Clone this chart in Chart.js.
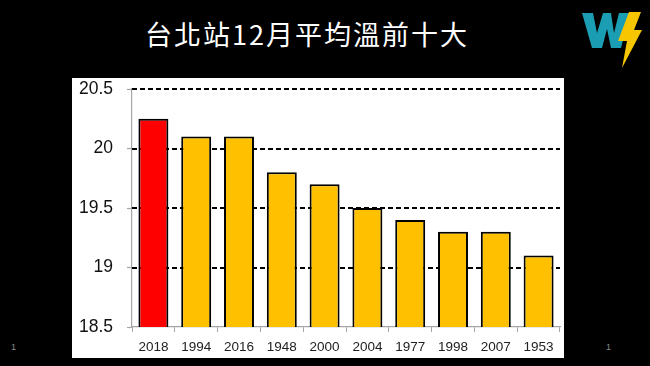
<!DOCTYPE html>
<html><head><meta charset="utf-8">
<script src="https://cdn.jsdelivr.net/npm/chart.js@4"></script>
<style>
html,body{margin:0;padding:0;background:#000;width:650px;height:366px;overflow:hidden;}
#title{position:absolute;left:0;width:614px;top:14px;text-align:center;color:#fff;font-family:"Noto Sans CJK TC","Noto Sans CJK SC",sans-serif;font-size:27px;letter-spacing:2px;line-height:40px;}
#panel{position:absolute;left:72px;top:78px;width:492px;height:280px;background:#fff;}
#c{display:block;}
.num{position:absolute;top:342px;color:#888;font-family:"Liberation Sans",Arial,sans-serif;font-size:9px;}
#logo{position:absolute;left:0;top:0;}
</style></head>
<body>
<div id="title">台北站12月平均溫前十大</div>
<svg id="logo" width="650" height="80">
<polygon fill="#1b9db3" points="582,13 593,13 597,33 603,13 611,13 614,33 619,13 630,13 621,48 611,48 607,29 602,48 592,48"/>
<polygon fill="#f7c600" points="629,12 641,12 634,30 642,30 622,68 627,41 618,41"/>
</svg>
<div id="panel"><canvas id="c" width="492" height="280"></canvas></div>
<div class="num" style="left:11px">1</div>
<div class="num" style="left:606px">1</div>
<script>
const categories = ["2018","1994","2016","1948","2000","2004","1977","1998","2007","1953"];
const values = [20.25,20.1,20.1,19.8,19.7,19.5,19.4,19.3,19.3,19.1];
const yTicks = [18.5,19,19.5,20,20.5];
const barColors = categories.map((c,i)=> i===0 ? "#ff0000" : "#ffc000");

const dashedGrid = {
  id: "dashedGrid",
  beforeDatasetsDraw(chart) {
    const { ctx, chartArea: a, scales: { y } } = chart;
    ctx.save();
    ctx.strokeStyle = "#000";
    ctx.lineWidth = 2;
    ctx.setLineDash([5, 3]);
    yTicks.forEach(v => {
      if (v === y.min) return;
      const py = Math.round(y.getPixelForValue(v));
      ctx.beginPath();
      ctx.moveTo(a.left, py);
      ctx.lineTo(a.right, py);
      ctx.stroke();
    });
    ctx.restore();
  }
};

new Chart(document.getElementById("c"), {
  type: "bar",
  data: { labels: categories, datasets: [{ data: values, backgroundColor: barColors, borderColor: "#000", borderWidth: 2, borderSkipped: false, barPercentage: 0.7, categoryPercentage: 1 }] },
  plugins: [dashedGrid],
  options: {
    responsive: false, animation: false, devicePixelRatio: 1,
    layout: { padding: { left: 0, right: 4, top: 11, bottom: 0 } },
    plugins: { legend: { display: false }, tooltip: { enabled: false } },
    scales: {
      x: {
        afterFit: s => { s.height = 31; s.paddingLeft = 0; s.paddingRight = 0; },
        border: { color: "#a6a6a6", width: 1.2 },
        grid: { drawOnChartArea: false, drawTicks: true, tickLength: 5, tickColor: "#a6a6a6", offset: true },
        ticks: { color: "#222", font: { family: "Liberation Sans", size: 13.5 }, padding: 7, maxRotation: 0 }
      },
      y: {
        min: 18.5, max: 20.5,
        afterFit: s => { s.width = 60; s.paddingTop = 0; s.paddingBottom = 0; },
        afterBuildTicks: s => { s.ticks = yTicks.map(v => ({ value: v })); },
        border: { color: "#a6a6a6", width: 1.2 },
        grid: { drawOnChartArea: false, tickLength: 5, tickColor: "#a6a6a6", tickWidth: 1.2 },
        ticks: { color: "#111", font: { family: "Liberation Sans", size: 17.5 }, padding: 14, callback: v => String(v) }
      }
    }
  }
});
</script>
</body></html>
